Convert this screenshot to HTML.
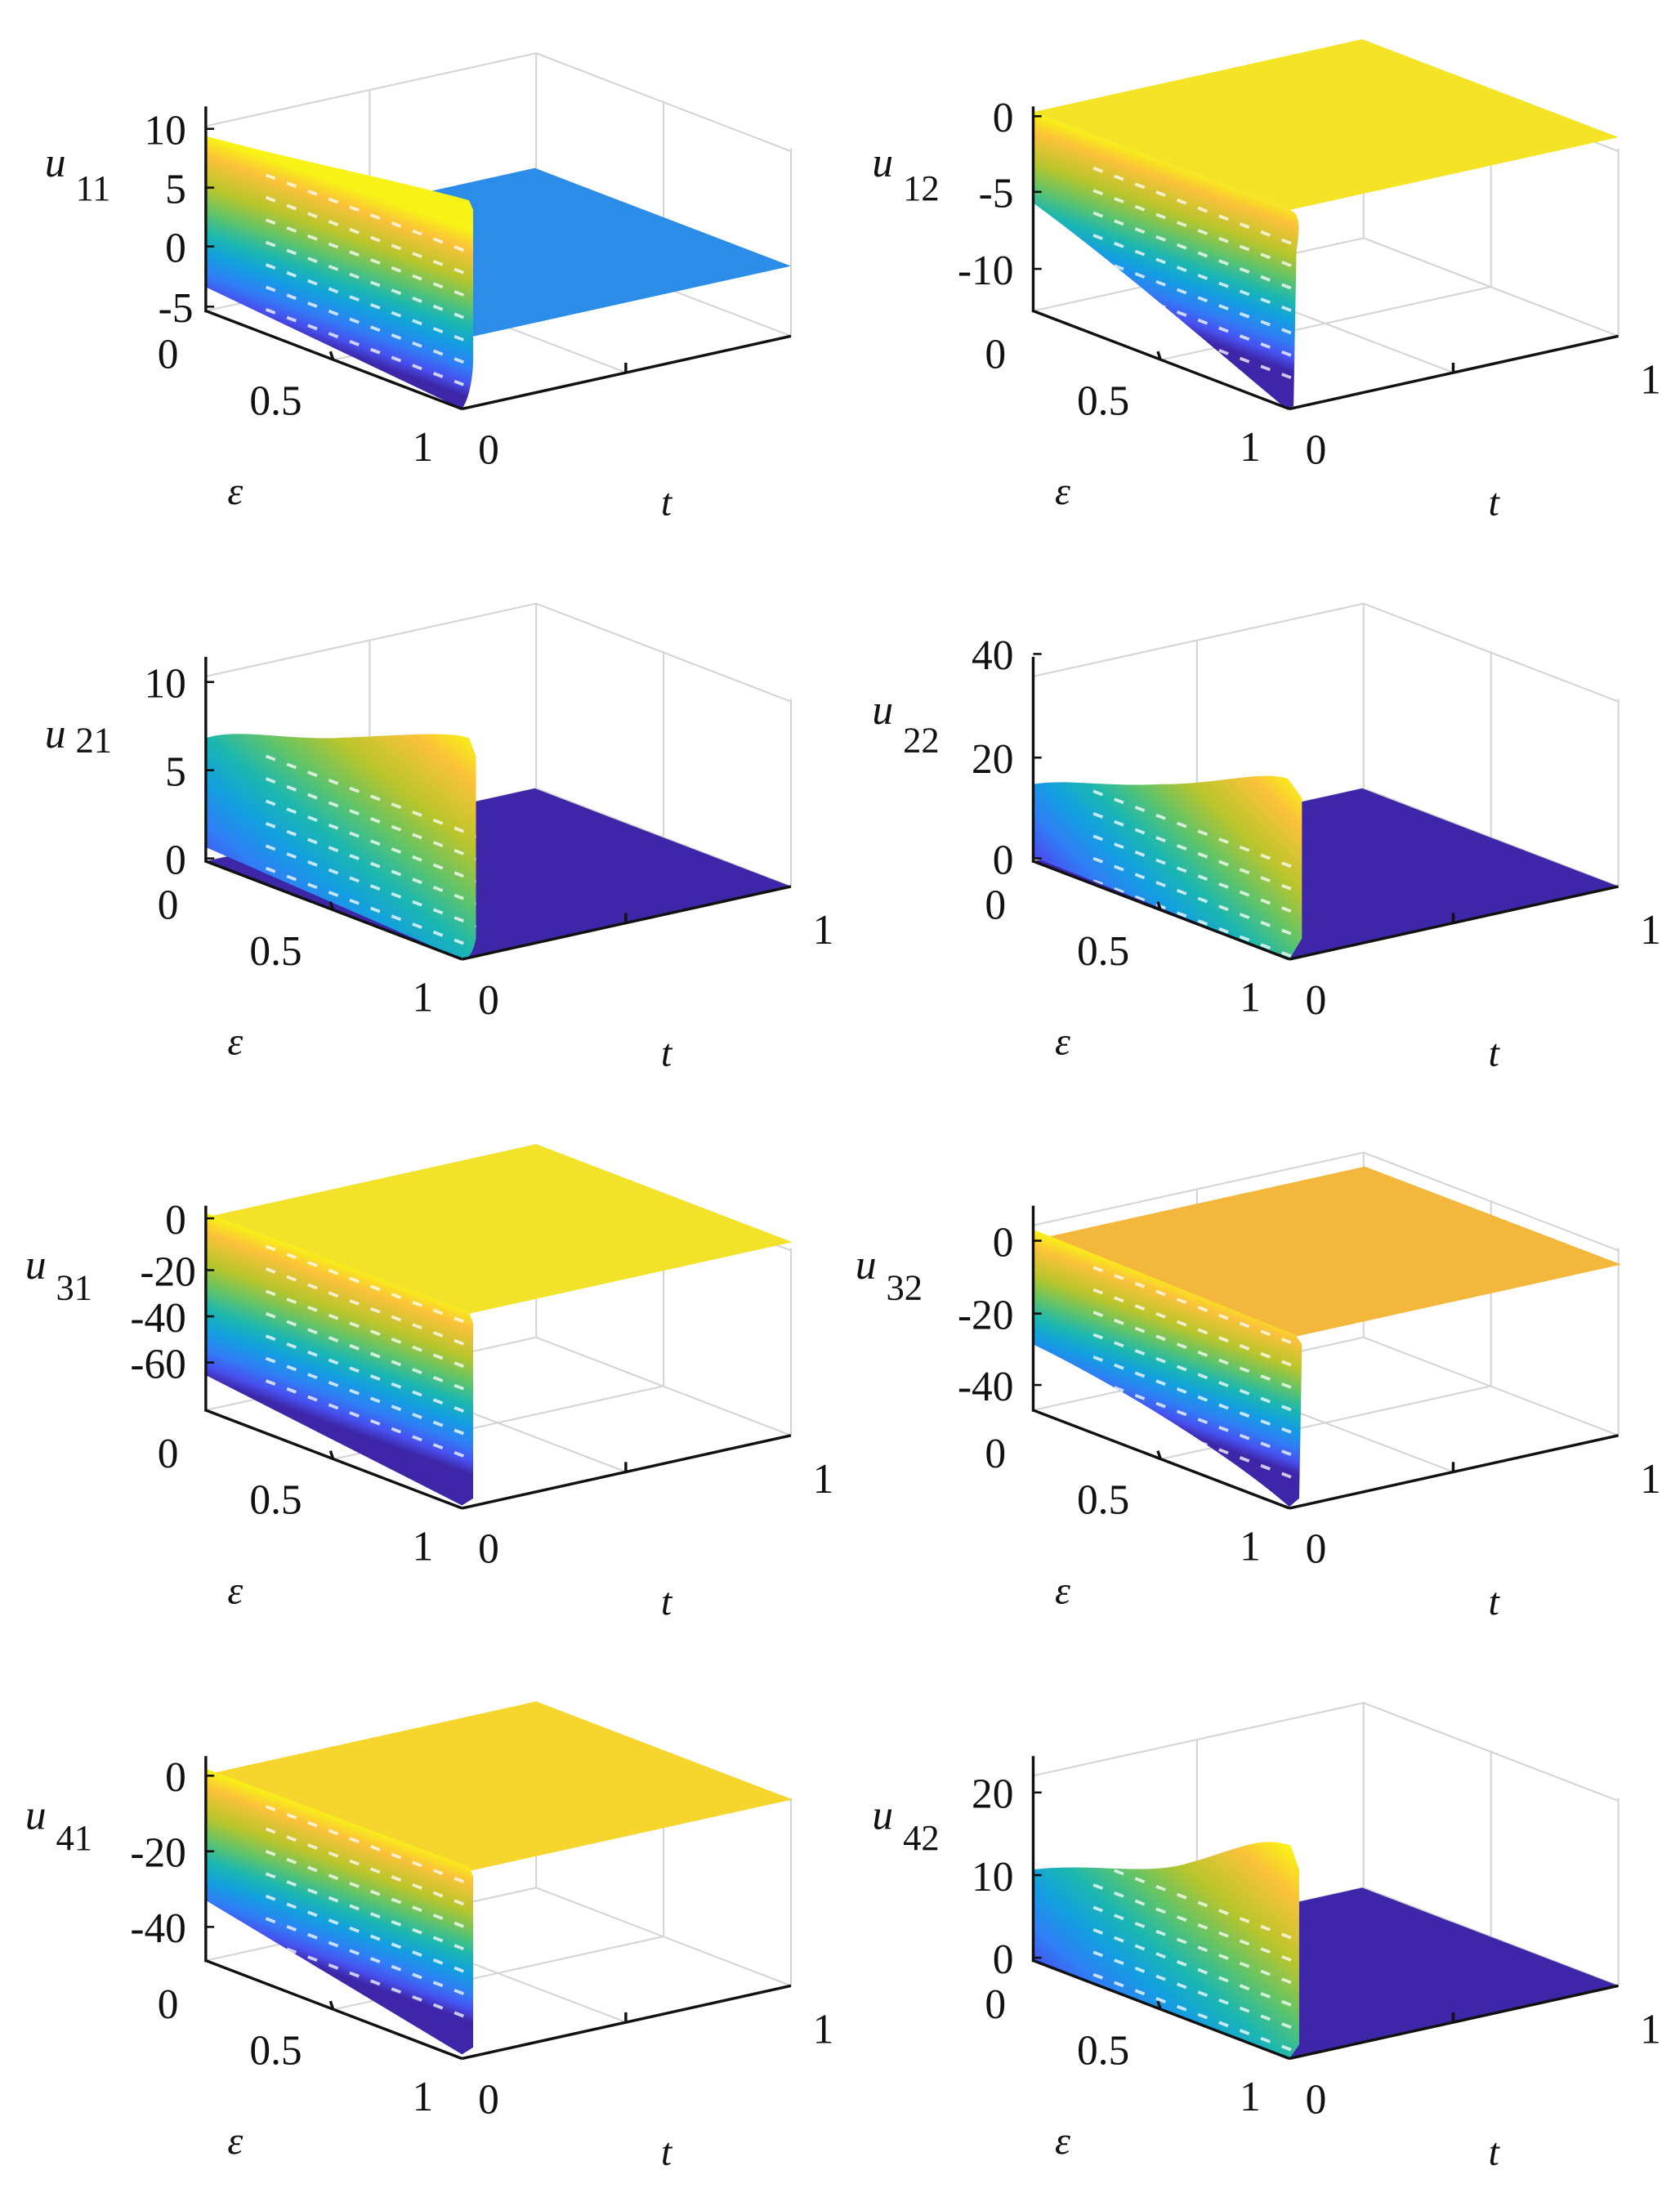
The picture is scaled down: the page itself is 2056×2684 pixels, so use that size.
<!DOCTYPE html>
<html><head><meta charset="utf-8"><style>
html,body{margin:0;padding:0;background:#fff;}
svg{display:block;}
text{font-family:"Liberation Serif",serif;fill:#111;}
.tk{font-size:30px;}
.it{font-style:italic;}
</style></head><body>
<svg width="2056" height="2684" viewBox="0 0 1200 1566" preserveAspectRatio="none" xmlns="http://www.w3.org/2000/svg">
<defs>
<g id="grid" stroke="#d4d4d4" stroke-width="1.2" fill="none">
 <line x1="383" y1="38" x2="383" y2="170"/>
 <line x1="474" y1="72" x2="474" y2="205"/>
 <line x1="565" y1="106" x2="565" y2="240"/>
 <line x1="264" y1="64" x2="264" y2="196"/>
 <polyline points="147,90 383,38 565,108"/>
 <polyline points="147,222 383,170 565,240"/>
 <line x1="238" y1="257" x2="473" y2="205"/>
 <line x1="264" y1="196" x2="447" y2="266"/>
</g>
<g id="axes" stroke="#111" stroke-width="2" fill="none">
 <line x1="147" y1="76" x2="147" y2="223"/>
 <line x1="147" y1="222" x2="330" y2="292"/>
 <line x1="330" y1="292" x2="565" y2="240"/>
 <line x1="238" y1="257" x2="236" y2="251"/>
 <line x1="447" y1="266" x2="447" y2="259"/>
</g>
<g id="dash" stroke="#fff" stroke-width="2.2" stroke-dasharray="7 9" opacity="0.75">
 <line x1="190" y1="0" x2="345" y2="59"/>
 <line x1="190" y1="16" x2="345" y2="75"/>
 <line x1="190" y1="32" x2="345" y2="91"/>
 <line x1="190" y1="48" x2="345" y2="107"/>
 <line x1="190" y1="64" x2="345" y2="123"/>
 <line x1="190" y1="80" x2="345" y2="139"/>
 <line x1="190" y1="96" x2="345" y2="155"/>
</g>
<linearGradient id="gA" gradientUnits="userSpaceOnUse" x1="0" y1="0" x2="0" y2="1">
 <stop offset="0" stop-color="#f8f216"/><stop offset="0.12" stop-color="#fbc23a"/>
 <stop offset="0.3" stop-color="#b9c52c"/><stop offset="0.45" stop-color="#5fc46a"/>
 <stop offset="0.58" stop-color="#1cb7b0"/><stop offset="0.7" stop-color="#139fe0"/>
 <stop offset="0.82" stop-color="#2f7ff5"/><stop offset="0.92" stop-color="#4751f0"/>
 <stop offset="1" stop-color="#3e26a8"/>
</linearGradient>
<linearGradient id="g11" href="#gA" x1="147" y1="97" x2="109" y2="204"/>
<linearGradient id="g12" href="#gA" x1="738" y1="80" x2="700" y2="186"/>
<linearGradient id="g21" href="#gA" x1="330" y1="520" x2="200" y2="680"/>
<linearGradient id="g22" href="#gA" x1="920" y1="550" x2="790" y2="680"/>
<linearGradient id="g31" href="#gA" x1="147" y1="866" x2="109" y2="971"/>
<linearGradient id="g32" href="#gA" x1="738" y1="878" x2="704" y2="974"/>
<linearGradient id="g41" href="#gA" x1="147" y1="1263" x2="111" y2="1363"/>
<linearGradient id="g42" href="#gA" x1="910" y1="1310" x2="780" y2="1460"/>
<clipPath id="c11"><path d="M147,97 C200,112 280,128 335,143 L338,150 L338,255 C338,270 335,285 330,292 L147,205 Z"/></clipPath>
<clipPath id="c12"><path d="M738,80 L921,150 C930,152 928,165 926,180 L924,290 L919,292 C880,260 800,190 738,145 Z"/></clipPath>
<clipPath id="c21"><path d="M147,527 C170,520 200,528 240,527 C290,525 320,522 335,527 L340,540 L340,670 C338,680 335,685 330,685 L147,605 Z"/></clipPath>
<clipPath id="c22"><path d="M738,560 C760,556 790,562 830,560 C870,560 900,550 920,556 L930,570 L930,670 L921,685 L738,612 Z"/></clipPath>
<clipPath id="c31"><path d="M147,866 L335,937 L338,945 L338,1070 L330,1075 L147,982 Z"/></clipPath>
<clipPath id="c32"><path d="M738,878 L925,953 L930,960 L928,1070 L921,1076 C880,1040 800,990 738,960 Z"/></clipPath>
<clipPath id="c41"><path d="M147,1263 L335,1333 L338,1340 L338,1462 L330,1467 L147,1357 Z"/></clipPath>
<clipPath id="c42"><path d="M738,1335 C780,1330 820,1340 850,1330 C880,1322 900,1310 922,1318 L928,1335 L928,1460 L921,1470 L738,1400 Z"/></clipPath>
</defs>

<use href="#grid"/>
<use href="#grid" transform="translate(591,0)"/>
<use href="#grid" transform="translate(0,393)"/>
<use href="#grid" transform="translate(591,393)"/>
<use href="#grid" transform="translate(0,785)"/>
<use href="#grid" transform="translate(591,785)"/>
<use href="#grid" transform="translate(0,1178)"/>
<use href="#grid" transform="translate(591,1178)"/>

<polygon points="147,172 382,120 565,190 330,242" fill="#2b8de8"/>
<polygon points="738,80 973,28 1156,98 921,150" fill="#f5e325"/>
<polygon points="147,615 382,563 565,633 330,685" fill="#3e26a8"/>
<polygon points="738,615 973,563 1156,633 921,685" fill="#3e26a8"/>
<polygon points="148,869 383,817 566,887 331,939" fill="#f3e22a"/>
<polygon points="740,885 975,833 1158,903 923,955" fill="#f3b73b"/>
<polygon points="148,1267 383,1215 566,1285 331,1337" fill="#f6d52c"/>
<polygon points="738,1400 973,1348 1156,1418 921,1470" fill="#3e26a8"/>

<g clip-path="url(#c11)"><rect x="140" y="80" width="210" height="220" fill="url(#g11)"/><use href="#dash" transform="translate(0,125)"/></g>
<g clip-path="url(#c12)"><rect x="730" y="70" width="210" height="230" fill="url(#g12)"/><use href="#dash" transform="translate(591,120)"/></g>
<g clip-path="url(#c21)"><rect x="140" y="510" width="210" height="180" fill="url(#g21)"/><use href="#dash" transform="translate(0,540)"/></g>
<g clip-path="url(#c22)"><rect x="730" y="540" width="210" height="150" fill="url(#g22)"/><use href="#dash" transform="translate(591,565)"/></g>
<g clip-path="url(#c31)"><rect x="140" y="850" width="210" height="230" fill="url(#g31)"/><use href="#dash" transform="translate(0,890)"/></g>
<g clip-path="url(#c32)"><rect x="730" y="860" width="210" height="220" fill="url(#g32)"/><use href="#dash" transform="translate(591,905)"/></g>
<g clip-path="url(#c41)"><rect x="140" y="1250" width="210" height="225" fill="url(#g41)"/><use href="#dash" transform="translate(0,1290)"/></g>
<g clip-path="url(#c42)"><rect x="730" y="1300" width="210" height="175" fill="url(#g42)"/><use href="#dash" transform="translate(591,1330)"/></g>

<use href="#axes"/>
<use href="#axes" transform="translate(591,0)"/>
<use href="#axes" transform="translate(0,393)"/>
<use href="#axes" transform="translate(591,393)"/>
<use href="#axes" transform="translate(0,785)"/>
<use href="#axes" transform="translate(591,785)"/>
<use href="#axes" transform="translate(0,1178)"/>
<use href="#axes" transform="translate(591,1178)"/>

<g stroke="#111" stroke-width="1.5">
<line x1="147" y1="92" x2="153" y2="92"/><line x1="147" y1="134" x2="153" y2="134"/><line x1="147" y1="176" x2="153" y2="176"/><line x1="147" y1="219" x2="153" y2="219"/>
<line x1="738" y1="83" x2="744" y2="83"/><line x1="738" y1="137" x2="744" y2="137"/><line x1="738" y1="192" x2="744" y2="192"/>
<line x1="147" y1="487" x2="153" y2="487"/><line x1="147" y1="550" x2="153" y2="550"/><line x1="147" y1="613" x2="153" y2="613"/>
<line x1="738" y1="467" x2="744" y2="467"/><line x1="738" y1="541" x2="744" y2="541"/><line x1="738" y1="613" x2="744" y2="613"/>
<line x1="147" y1="870" x2="153" y2="870"/><line x1="147" y1="907" x2="153" y2="907"/><line x1="147" y1="940" x2="153" y2="940"/><line x1="147" y1="973" x2="153" y2="973"/>
<line x1="738" y1="886" x2="744" y2="886"/><line x1="738" y1="938" x2="744" y2="938"/><line x1="738" y1="989" x2="744" y2="989"/>
<line x1="147" y1="1268" x2="153" y2="1268"/><line x1="147" y1="1322" x2="153" y2="1322"/><line x1="147" y1="1376" x2="153" y2="1376"/>
<line x1="738" y1="1280" x2="744" y2="1280"/><line x1="738" y1="1339" x2="744" y2="1339"/><line x1="738" y1="1398" x2="744" y2="1398"/>
</g>

<g class="tk" text-anchor="end">
<text x="133" y="103">10</text><text x="133" y="145">5</text><text x="133" y="187">0</text><text x="138" y="230">-5</text>
<text x="724" y="94">0</text><text x="724" y="148">-5</text><text x="724" y="203">-10</text>
<text x="133" y="498">10</text><text x="133" y="561">5</text><text x="133" y="624">0</text>
<text x="724" y="478">40</text><text x="724" y="552">20</text><text x="724" y="624">0</text>
<text x="133" y="881">0</text><text x="140" y="918">-20</text><text x="133" y="951">-40</text><text x="133" y="984">-60</text>
<text x="724" y="897">0</text><text x="724" y="949">-20</text><text x="724" y="1000">-40</text>
<text x="133" y="1279">0</text><text x="133" y="1333">-20</text><text x="133" y="1387">-40</text>
<text x="724" y="1291">20</text><text x="724" y="1350">10</text><text x="724" y="1409">0</text>
</g>

<g class="tk" text-anchor="middle">
<text x="120" y="263">0</text><text x="197" y="296">0.5</text><text x="302" y="329">1</text><text x="349" y="331">0</text>
<text x="711" y="263">0</text><text x="788" y="296">0.5</text><text x="893" y="329">1</text><text x="940" y="331">0</text><text x="1179" y="281">1</text>
<text x="120" y="656">0</text><text x="197" y="689">0.5</text><text x="302" y="722">1</text><text x="349" y="724">0</text><text x="588" y="674">1</text>
<text x="711" y="656">0</text><text x="788" y="689">0.5</text><text x="893" y="722">1</text><text x="940" y="724">0</text><text x="1179" y="674">1</text>
<text x="120" y="1048">0</text><text x="197" y="1081">0.5</text><text x="302" y="1114">1</text><text x="349" y="1116">0</text><text x="588" y="1066">1</text>
<text x="711" y="1048">0</text><text x="788" y="1081">0.5</text><text x="893" y="1114">1</text><text x="940" y="1116">0</text><text x="1179" y="1066">1</text>
<text x="120" y="1441">0</text><text x="197" y="1474">0.5</text><text x="302" y="1507">1</text><text x="349" y="1509">0</text><text x="588" y="1459">1</text>
<text x="711" y="1441">0</text><text x="788" y="1474">0.5</text><text x="893" y="1507">1</text><text x="940" y="1509">0</text><text x="1179" y="1459">1</text>
</g>

<g class="tk it" text-anchor="middle" style="font-size:28px">
<text x="168" y="360">ε</text><text x="476" y="368">t</text>
<text x="759" y="360">ε</text><text x="1067" y="368">t</text>
<text x="168" y="753">ε</text><text x="476" y="761">t</text>
<text x="759" y="753">ε</text><text x="1067" y="761">t</text>
<text x="168" y="1145">ε</text><text x="476" y="1153">t</text>
<text x="759" y="1145">ε</text><text x="1067" y="1153">t</text>
<text x="168" y="1538">ε</text><text x="476" y="1546">t</text>
<text x="759" y="1538">ε</text><text x="1067" y="1546">t</text>
</g>

<g class="tk">
<text x="32" y="126" class="it">u</text><text x="54" y="143" style="font-size:26px">11</text>
<text x="623" y="126" class="it">u</text><text x="645" y="143" style="font-size:26px">12</text>
<text x="32" y="534" class="it">u</text><text x="54" y="537" style="font-size:26px">21</text>
<text x="623" y="517" class="it">u</text><text x="645" y="537" style="font-size:26px">22</text>
<text x="18" y="913" class="it">u</text><text x="40" y="928" style="font-size:26px">31</text>
<text x="611" y="913" class="it">u</text><text x="633" y="928" style="font-size:26px">32</text>
<text x="18" y="1306" class="it">u</text><text x="40" y="1321" style="font-size:26px">41</text>
<text x="623" y="1306" class="it">u</text><text x="645" y="1321" style="font-size:26px">42</text>
</g>
</svg>
</body></html>
